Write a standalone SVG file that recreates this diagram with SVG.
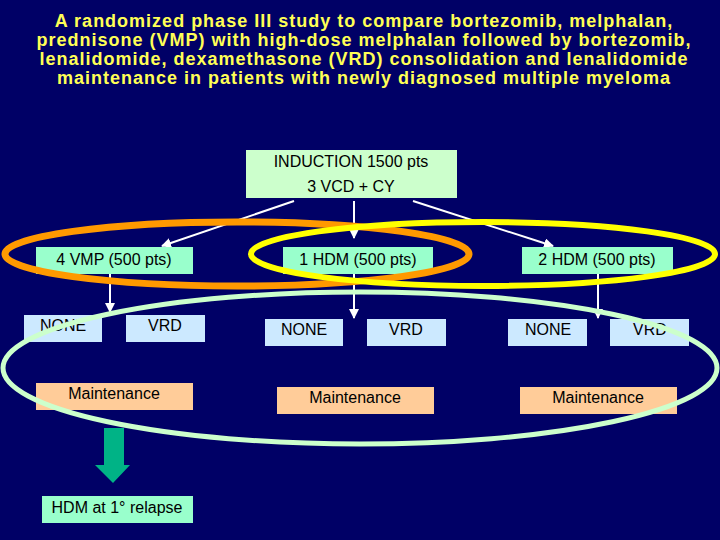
<svg xmlns="http://www.w3.org/2000/svg" width="720" height="540" viewBox="0 0 720 540">
<defs>
<style>
.t{font-family:"Liberation Sans",Arial,sans-serif;font-size:16px;fill:#000;text-anchor:middle}
.title{font-family:"Liberation Sans",Arial,sans-serif;font-size:18px;letter-spacing:1px;font-weight:bold;fill:#ffff55;text-anchor:middle}
.ind{fill:#ccffcc}
.aq{fill:#99ffcc}
.bl{fill:#cce9ff}
.mt{fill:#ffcc99}
.c{stroke:#fff;stroke-width:2;fill:none}
</style>
<marker id="ah" viewBox="0 0 10 10" refX="9" refY="5" markerWidth="5" markerHeight="5" orient="auto">
<path d="M0,0 L10,5 L0,10 z" fill="#fff"/>
</marker>
</defs>
<rect width="720" height="540" fill="#000066"/>
<g id="title">
<text class="title" x="364" y="27">A randomized phase III study to compare bortezomib, melphalan,</text>
<text class="title" x="364" y="46">prednisone (VMP) with high-dose melphalan followed by bortezomib,</text>
<text class="title" x="364" y="65">lenalidomide, dexamethasone (VRD) consolidation and lenalidomide</text>
<text class="title" x="364" y="84">maintenance in patients with newly diagnosed multiple myeloma</text>
</g>
<g id="connectors">
<line class="c" x1="294" y1="201" x2="162" y2="246" marker-end="url(#ah)"/>
<line class="c" x1="354" y1="201" x2="354" y2="238" marker-end="url(#ah)"/>
<line class="c" x1="413" y1="201" x2="553" y2="246" marker-end="url(#ah)"/>
<line class="c" x1="110" y1="274" x2="110" y2="312" marker-end="url(#ah)"/>
<line class="c" x1="354" y1="274" x2="354" y2="318" marker-end="url(#ah)"/>
<line class="c" x1="598" y1="274" x2="598" y2="318" marker-end="url(#ah)"/>
<path id="block-arrow" d="M104,428 H124 V465 H130 L113,483 L95,465 H104 Z" fill="#00b386"/>
</g>
<g id="induction">
<rect class="ind" x="246" y="150" width="211" height="48"/>
<text class="t" x="351" y="167">INDUCTION 1500 pts</text>
<text class="t" x="351" y="192">3 VCD + CY</text>
</g>
<g id="vmp">
<rect class="aq" x="36" y="247" width="157" height="27"/>
<text class="t" x="114" y="265">4 VMP (500 pts)</text>
</g>
<g id="hdm1">
<rect class="aq" x="283" y="247" width="150" height="27"/>
<text class="t" x="358" y="265">1 HDM (500 pts)</text>
</g>
<g id="hdm2">
<rect class="aq" x="522" y="247" width="151" height="27"/>
<text class="t" x="597" y="265">2 HDM (500 pts)</text>
</g>
<g id="none1">
<rect class="bl" x="24" y="315" width="78" height="27"/>
<text class="t" x="63" y="331">NONE</text>
</g>
<g id="vrd1">
<rect class="bl" x="126" y="315" width="79" height="27"/>
<text class="t" x="165" y="331">VRD</text>
</g>
<g id="none2">
<rect class="bl" x="265" y="319" width="78" height="27"/>
<text class="t" x="304" y="335">NONE</text>
</g>
<g id="vrd2">
<rect class="bl" x="367" y="319" width="79" height="27"/>
<text class="t" x="406" y="335">VRD</text>
</g>
<g id="none3">
<rect class="bl" x="508" y="319" width="79" height="27"/>
<text class="t" x="548" y="335">NONE</text>
</g>
<g id="vrd3">
<rect class="bl" x="610" y="319" width="79" height="27"/>
<text class="t" x="650" y="335">VRD</text>
</g>
<g id="maint1">
<rect class="mt" x="36" y="383" width="157" height="27"/>
<text class="t" x="114" y="399">Maintenance</text>
</g>
<g id="maint2">
<rect class="mt" x="277" y="387" width="157" height="27"/>
<text class="t" x="355" y="403">Maintenance</text>
</g>
<g id="maint3">
<rect class="mt" x="520" y="387" width="157" height="27"/>
<text class="t" x="598" y="403">Maintenance</text>
</g>
<g id="relapse">
<rect class="aq" x="42" y="496" width="151" height="27"/>
<text class="t" x="117" y="513">HDM at 1° relapse</text>
</g>
<g id="groupings">
<ellipse cx="237" cy="254" rx="232" ry="32" fill="none" stroke="#ff9900" stroke-width="7"/>
<ellipse cx="483" cy="254" rx="232" ry="32" fill="none" stroke="#ffff00" stroke-width="6"/>
<ellipse cx="360" cy="368" rx="357" ry="76" fill="none" stroke="#ccffcc" stroke-width="5"/>
</g>
</svg>
